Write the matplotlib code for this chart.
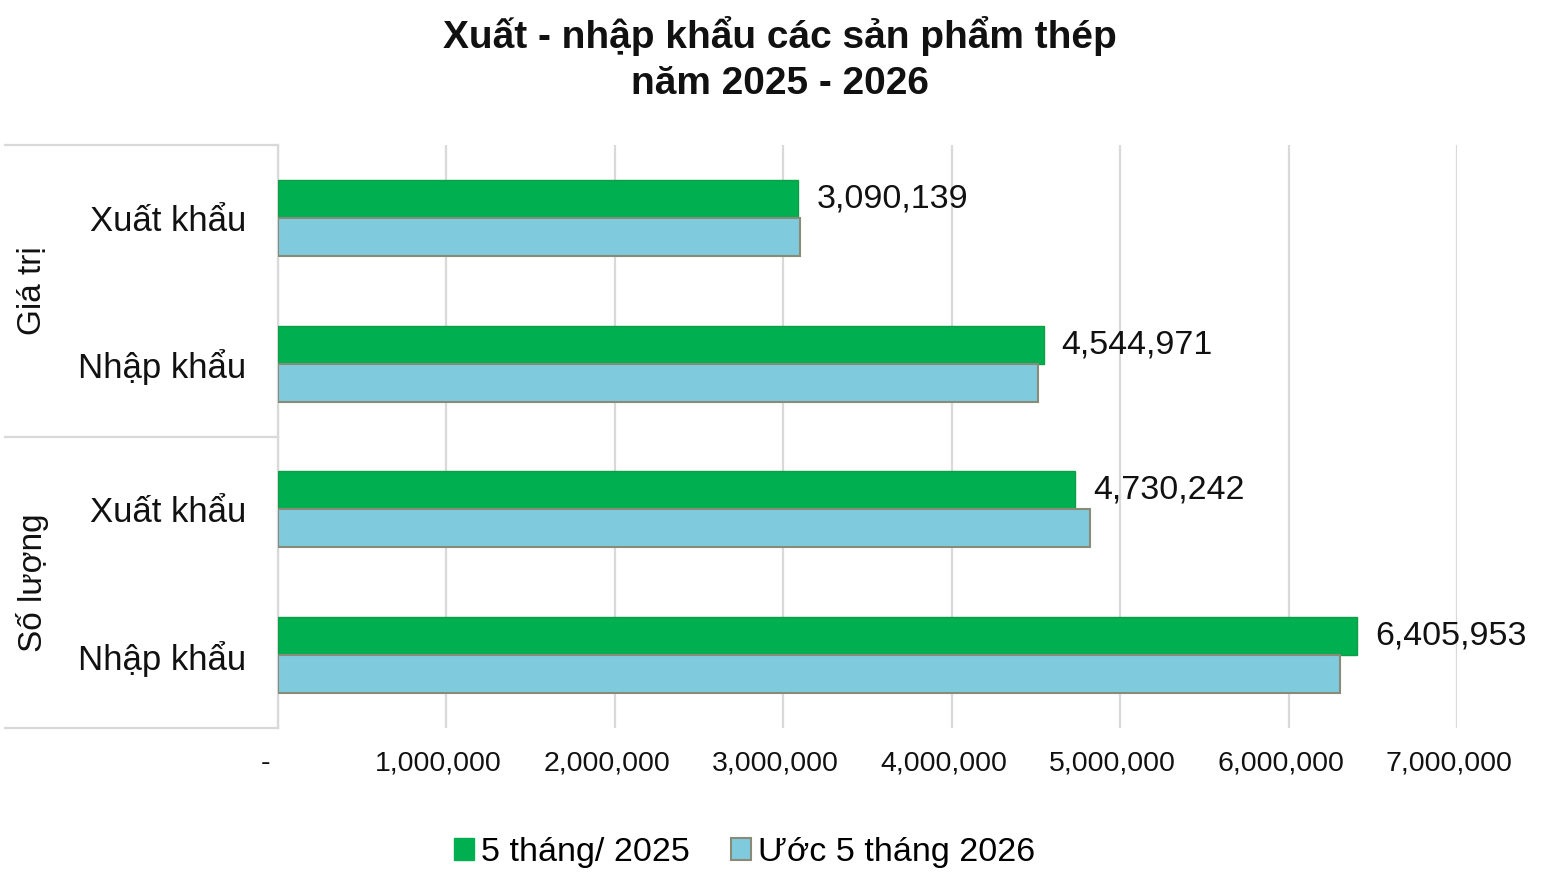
import matplotlib.pyplot as plt
import matplotlib.transforms as mtransforms
from matplotlib.patches import Patch

plt.rcParams['font.family'] = ['Liberation Sans', 'DejaVu Sans']

# Dữ liệu
groups = ['Giá trị', 'Số lượng']
categories = ['Xuất khẩu', 'Nhập khẩu', 'Xuất khẩu', 'Nhập khẩu']
series_names = ['5 tháng/ 2025', 'Ước 5 tháng 2026']
val_2025 = [3090139, 4544971, 4730242, 6405953]
val_2026 = [3100000, 4513000, 4822000, 6306000]
x_ticks = [0, 1000000, 2000000, 3000000, 4000000, 5000000, 6000000, 7000000]
x_ticklabels = ['-', '1,000,000', '2,000,000', '3,000,000', '4,000,000',
                '5,000,000', '6,000,000', '7,000,000']

GREEN = '#00B050'
BLUE = '#7FCBDD'
GRID = '#D9D9D9'
TXT = '#111111'

fig = plt.figure(figsize=(15.54, 8.76), dpi=100)
ax = fig.add_axes([0.1789, 0.1689, 0.9376 - 0.1789, 0.8345 - 0.1689])

pos = [i + 0.5 for i in range(len(categories))]
h = 0.26
ax.barh([p - h / 2 for p in pos], val_2025, height=h, color=GREEN,
        edgecolor='#0E9E45', linewidth=1, zorder=3)
ax.barh([p + h / 2 for p in pos], val_2026, height=h, color=BLUE,
        edgecolor='#8A8A78', linewidth=1.5, zorder=3)

for p, v in zip(pos, val_2025):
    ax.annotate(f'{v:,}', (v, p - h / 2), xytext=(13, 0), textcoords='offset points',
                va='center', ha='left', fontsize=24.5, color=TXT)

ax.set_xlim(0, 7000000)
ax.set_ylim(len(categories), 0)
ax.set_xticks(x_ticks)
ax.set_xticklabels(x_ticklabels, fontsize=20.5, color=TXT)
ax.tick_params(axis='x', length=0, pad=16)
off = mtransforms.ScaledTranslation(-8 / 100, 0, fig.dpi_scale_trans)
for i, lab in enumerate(ax.get_xticklabels()):
    lab.set_transform(lab.get_transform() + off)
    if i == 0:
        lab.set_horizontalalignment('right')

ax.set_yticks(pos)
ax.set_yticklabels(categories, fontsize=25, color=TXT)
ax.tick_params(axis='y', length=0, pad=23)

ax.grid(axis='x', color=GRID, linewidth=1.6, zorder=0)
for s in ['top', 'right', 'bottom']:
    ax.spines[s].set_visible(False)
ax.spines['left'].set_color(GRID)
ax.spines['left'].set_linewidth(1.6)

# Đường phân nhóm bên trái
tr = mtransforms.blended_transform_factory(ax.transAxes, ax.transData)
for yb in [0, 2, 4]:
    ax.plot([-0.2316, 0], [yb, yb], transform=tr, color=GRID, lw=1.6, clip_on=False)
for gi, g in enumerate(groups):
    ax.text(-0.2084, gi * 2 + 1, g, transform=tr, rotation=90, ha='center', va='center',
            fontsize=24, color=TXT)

fig.text(0.502, 0.982, 'Xuất - nhập khẩu các sản phẩm thép\nnăm 2025 - 2026',
         ha='center', va='top', fontsize=28, fontweight='bold', linespacing=1.35,
         color='#111111')

handles = [Patch(facecolor=GREEN, edgecolor=GREEN, label=series_names[0]),
           Patch(facecolor=BLUE, edgecolor='#8A8A78', linewidth=1.5, label=series_names[1])]
fig.legend(handles=handles, loc='center', bbox_to_anchor=(0.479, 0.027), ncol=2,
           frameon=False, fontsize=24.5, handlelength=0.6, handleheight=0.6,
           handletextpad=0.2, columnspacing=1.2)

fig.savefig('out.png', dpi=100)
